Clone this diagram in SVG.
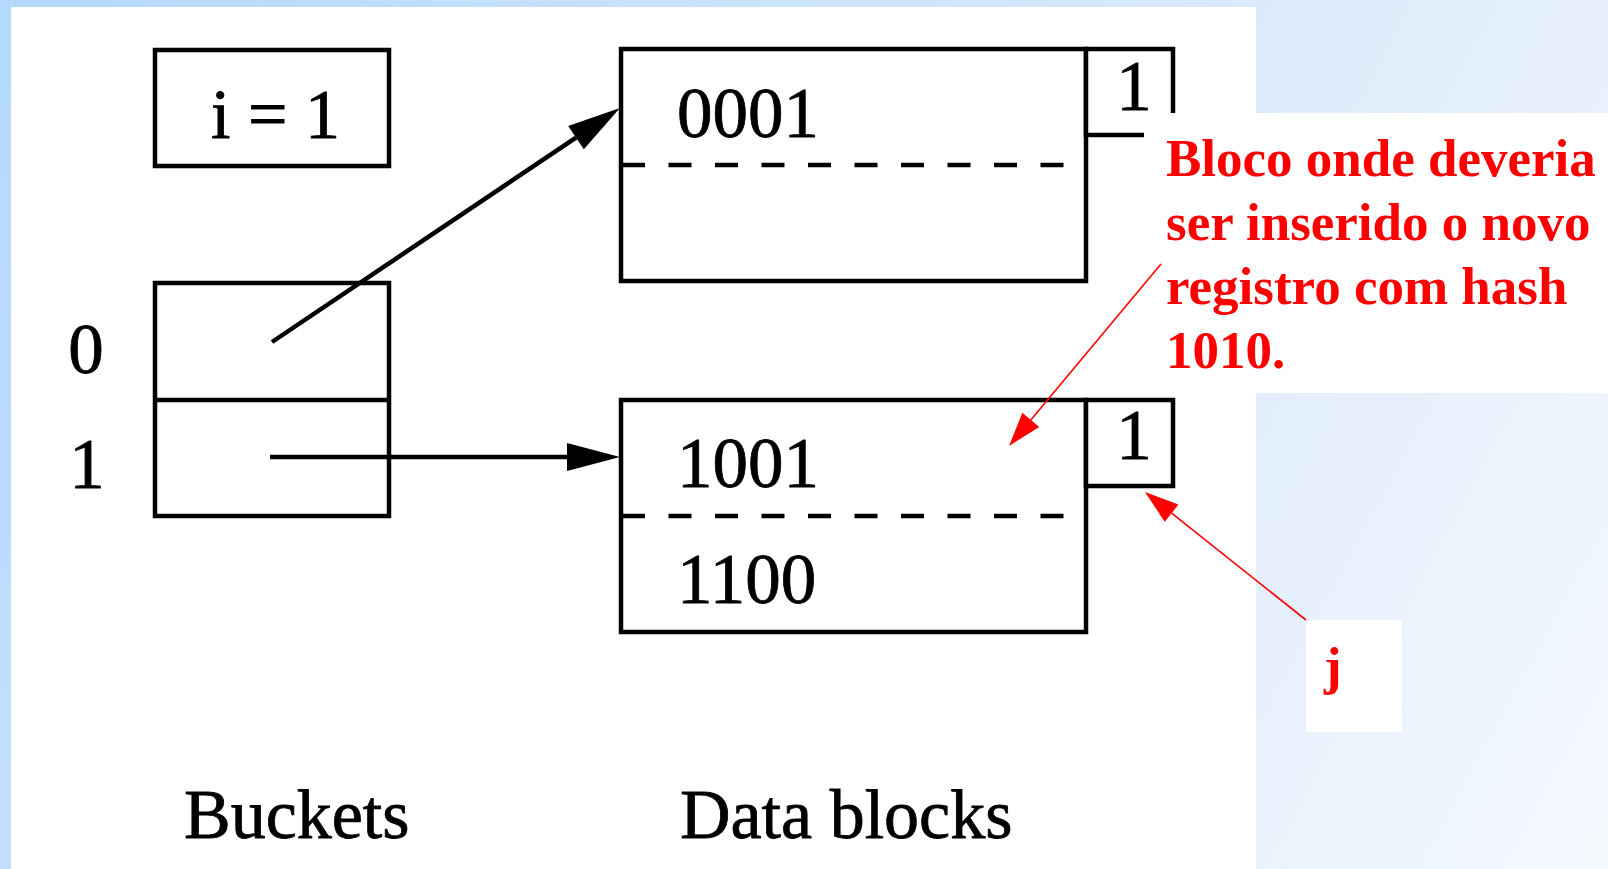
<svg xmlns="http://www.w3.org/2000/svg" width="1608" height="869" viewBox="0 0 1608 869">
  <defs>
    <linearGradient id="bg" gradientUnits="userSpaceOnUse" x1="0" y1="0" x2="1608" y2="869">
      <stop offset="0" stop-color="#b4d8fe"/>
      <stop offset="0.63" stop-color="#dcebfb"/>
      <stop offset="1" stop-color="#f6f9fe"/>
    </linearGradient>
    <marker id="ah" markerUnits="userSpaceOnUse" markerWidth="54" markerHeight="30" refX="0" refY="14" orient="auto" overflow="visible">
      <path d="M0,0 L53,14 L0,28 Z" fill="#000"/>
    </marker>
    <marker id="ahr" markerUnits="userSpaceOnUse" markerWidth="35" markerHeight="23" refX="0" refY="11" orient="auto" overflow="visible">
      <path d="M0,0 L34,11 L0,22 Z" fill="#ff0000"/>
    </marker>
  </defs>
  <style>
    .box { fill: #fff; stroke: #000; stroke-width: 4.5; }
    .ln { stroke: #000; stroke-width: 4.5; fill: none; }
    .dash { stroke: #000; stroke-width: 4.5; stroke-dasharray: 23 23.5; fill: none; }
    .t { font-family: "Liberation Serif", "Times New Roman", serif; font-size: 70px; fill: #000; stroke: #000; stroke-width: 0.8; }
    .d { font-family: "Liberation Serif", "Times New Roman", serif; font-size: 71px; fill: #000; stroke: #000; stroke-width: 0.8; }
    .r { font-family: "Liberation Serif", "Times New Roman", serif; font-size: 53px; font-weight: bold; fill: #ff0000; }
    .rl { stroke: #ff0000; stroke-width: 1.6; fill: none; }
  </style>

  <rect x="0" y="0" width="1608" height="869" fill="url(#bg)"/>
  <rect x="11" y="7" width="1245" height="862" fill="#fff"/>

  <g id="global-depth">
    <rect class="box" x="155" y="50" width="234" height="116"/>
    <text class="t" x="211" y="138">i = 1</text>
  </g>

  <g id="buckets">
    <rect class="box" x="155" y="283" width="234" height="233"/>
    <line class="ln" x1="155" y1="400" x2="389" y2="400"/>
    <text class="d" x="86" y="373" text-anchor="middle">0</text>
    <text class="d" x="87" y="488" text-anchor="middle">1</text>
    <text class="t" x="184" y="838">Buckets</text>
  </g>

  <g id="block1">
    <rect class="box" x="621" y="49" width="465" height="232"/>
    <line class="dash" x1="622" y1="165" x2="1064" y2="165"/>
    <text class="d" x="677" y="137">0001</text>
    <rect class="box" x="1086" y="49" width="87" height="86"/>
    <text class="d" x="1134" y="110" text-anchor="middle">1</text>
  </g>

  <g id="block2">
    <rect class="box" x="621" y="400" width="465" height="232"/>
    <line class="dash" x1="622" y1="516" x2="1064" y2="516"/>
    <text class="d" x="677" y="487">1001</text>
    <text class="d" x="677" y="603">1100</text>
    <rect class="box" x="1086" y="400" width="87" height="86"/>
    <text class="d" x="1134" y="459" text-anchor="middle">1</text>
  </g>

  <text class="t" x="680" y="838">Data blocks</text>

  <g id="connectors">
    <line class="ln" x1="272" y1="342" x2="576" y2="137.6" marker-end="url(#ah)"/>
    <line class="ln" x1="270" y1="457" x2="567" y2="457" marker-end="url(#ah)"/>
  </g>

  <g id="note">
    <rect x="1144" y="113" width="464" height="280" fill="#fff"/>
    <text class="r" x="1166" y="176">Bloco onde deveria</text>
    <text class="r" x="1166" y="240">ser inserido o novo</text>
    <text class="r" x="1166" y="304">registro com hash</text>
    <text class="r" x="1166" y="368">1010.</text>
  </g>

  <g id="j-label">
    <rect x="1306" y="620" width="96" height="112" fill="#fff"/>
    <text class="r" x="1324" y="684">j</text>
  </g>

  <g id="annotation-connectors">
    <line class="rl" x1="1161" y1="264" x2="1030.8" y2="419.9" marker-end="url(#ahr)"/>
    <line class="rl" x1="1306" y1="620" x2="1171.6" y2="513.2" marker-end="url(#ahr)"/>
  </g>
</svg>
